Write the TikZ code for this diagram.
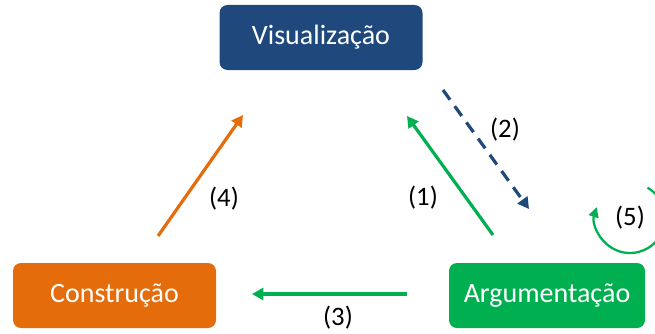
\documentclass[tikz,border=0pt]{standalone}
\usepackage{fontspec}
\setmainfont{Carlito}
\usetikzlibrary{arrows.meta,calc}
\definecolor{vblue}{RGB}{31,73,125}
\definecolor{corange}{RGB}{228,108,10}
\definecolor{agreen}{RGB}{0,176,80}
\tikzset{
  cbox/.style={rounded corners=6pt,minimum height=48.75pt,inner sep=0pt,text=white,font=\fontsize{21}{25}\selectfont},
  clab/.style={font=\fontsize{20}{24}\selectfont},
  carr/.style={line width=2.4pt,#1,-{Triangle[length=8.5pt,width=9pt]}},
}
\begin{document}
\begin{tikzpicture}[x=0.75pt,y=0.75pt]
%% one pixel of the 655x333 frame = one unit; the loop runs off the right edge
\clip (0,0) rectangle (655,333);
\node[cbox,fill=vblue,minimum width=152.25pt] (vis) at (321,295.5) {Visualização};
\node[cbox,fill=corange,minimum width=152.25pt] (con) at (114.5,37.5) {Construção};
\node[cbox,fill=agreen,minimum width=147pt] (arg) at (547,37.5) {Argumentação};
% free ends of the connectors
\coordinate (a1) at (493,98);  \coordinate (b1) at (407,217);
\coordinate (a2) at (443,243); \coordinate (b2) at (529,124);
\coordinate (a3) at (407,39);  \coordinate (b3) at (252,39);
\coordinate (a4) at (158,97);  \coordinate (b4) at (243,218);
\coordinate (a5) at ($(630,115)+(60:35)$);
\draw[carr=agreen] (a1) -- (b1);
\draw[carr=vblue,dash pattern=on 9pt off 6pt] (a2) -- (b2);
\draw[carr=agreen] (a3) -- (b3);
\draw[carr=corange] (a4) -- (b4);
\draw[carr=agreen,line width=1.7pt,-{Triangle[length=7.5pt,width=7.5pt]}] (a5) arc[start angle=60,end angle=-198,radius=35];
\node[clab] (l1) at (423,135) {(1)};
\node[clab] (l2) at (505,203) {(2)};
\node[clab] (l3) at (338,15) {(3)};
\node[clab] (l4) at (224,134) {(4)};
\node[clab] (l5) at (630,115) {(5)};
\end{tikzpicture}
\end{document}
